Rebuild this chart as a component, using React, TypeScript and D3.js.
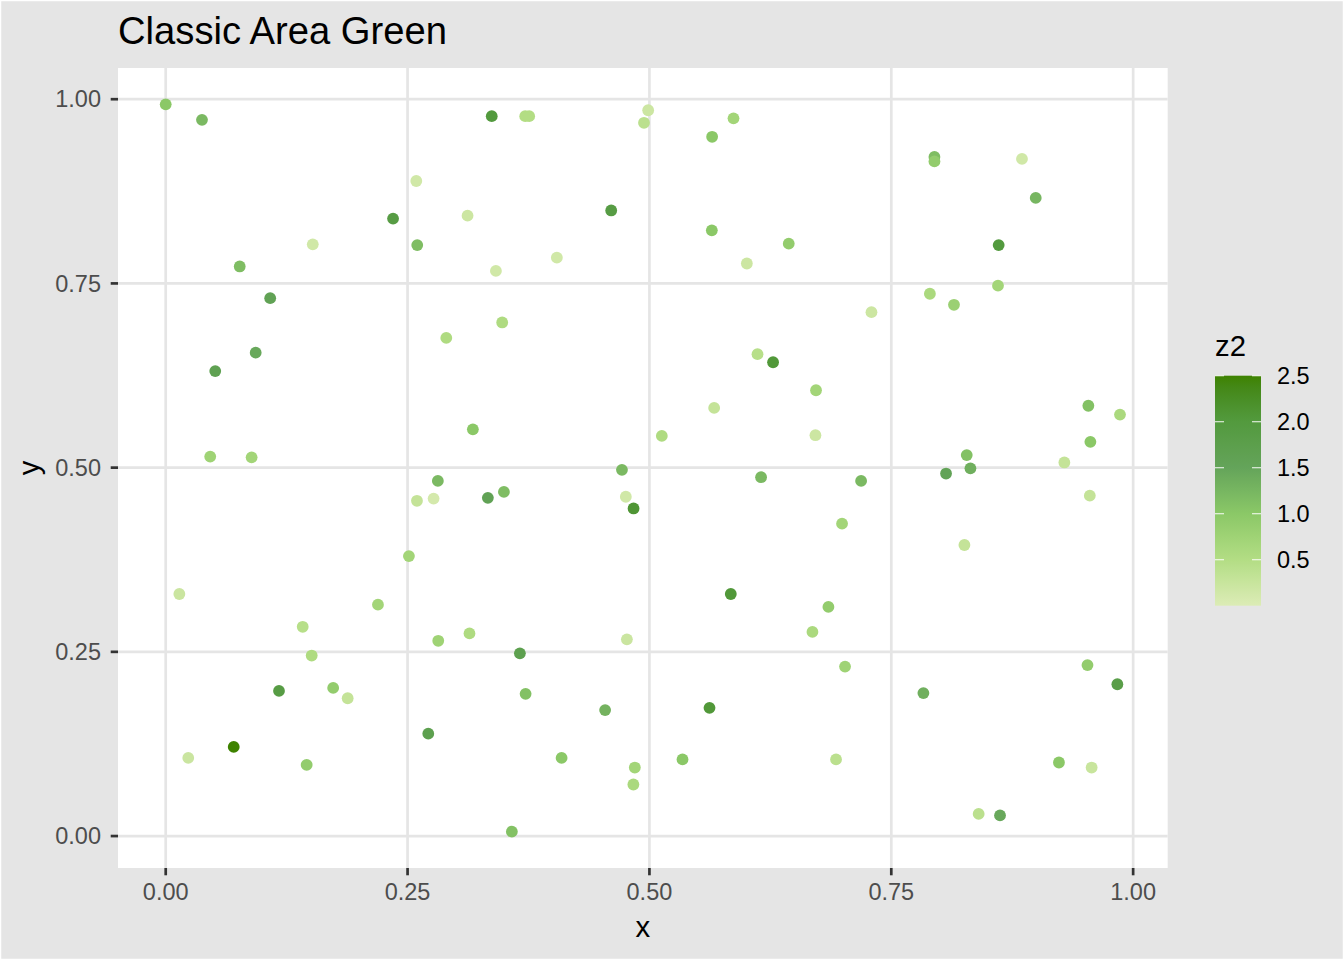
import React from 'react';
import * as d3 from 'd3';

// point data (x, y, z2)
const xs = [
  0.0, 0.0375, 0.259, 0.235, 0.312, 0.152, 0.26, 0.0765, 0.108, 0.29, 0.093, 0.0512, 0.3175, 0.046, 0.0888,
  0.337, 0.3716, 0.3757, 0.4987, 0.4944, 0.5869, 0.5648, 0.4605, 0.5645, 0.644, 0.6007, 0.4043, 0.3413, 0.3478,
  0.6117, 0.6278, 0.6722, 0.5669, 0.6716, 0.5128, 0.7946, 0.7946, 0.8851, 0.8993, 0.861, 0.8603, 0.7899, 0.8148,
  0.7295, 0.9537, 0.9864, 0.9558, 0.9289, 0.828, 0.8318, 0.8066, 0.7188, 0.9552, 0.6991, 0.8256, 0.685, 0.7022,
  0.9528, 0.9837, 0.7832, 0.6929, 0.9233, 0.9571, 0.8403, 0.8624, 0.4716, 0.6154, 0.333, 0.3496, 0.4756, 0.4836,
  0.314, 0.5841, 0.6685, 0.4767, 0.3661, 0.372, 0.4542, 0.5621, 0.4092, 0.5342, 0.4849, 0.4834, 0.3578, 0.2813,
  0.2597, 0.2769, 0.2514, 0.0141, 0.2194, 0.1416, 0.2817, 0.1509, 0.1731, 0.1881, 0.1171, 0.2714, 0.0703, 0.0233,
  0.1457,
];
const ys = [
  0.993, 0.972, 0.889, 0.838, 0.842, 0.803, 0.802, 0.773, 0.73, 0.676, 0.656, 0.631, 0.552, 0.515, 0.514,
  0.977, 0.977, 0.977, 0.985, 0.968, 0.974, 0.949, 0.849, 0.822, 0.804, 0.777, 0.785, 0.767, 0.697,
  0.654, 0.643, 0.605, 0.581, 0.544, 0.543, 0.9216, 0.9156, 0.919, 0.866, 0.802, 0.747, 0.736, 0.721,
  0.711, 0.584, 0.572, 0.535, 0.507, 0.517, 0.499, 0.492, 0.482, 0.462, 0.424, 0.395, 0.311, 0.23,
  0.232, 0.206, 0.194, 0.104, 0.0998, 0.093, 0.03, 0.028, 0.497, 0.487, 0.459, 0.467, 0.4605, 0.4446,
  0.275, 0.3285, 0.277, 0.267, 0.248, 0.193, 0.171, 0.174, 0.106, 0.104, 0.093, 0.07, 0.006, 0.482,
  0.455, 0.458, 0.38, 0.3285, 0.314, 0.284, 0.265, 0.245, 0.201, 0.187, 0.197, 0.139, 0.121, 0.106,
  0.0966,
];
const zs = [
  1.0, 1.2, 0.15, 1.9, 0.2, 0.15, 1.15, 1.15, 1.6, 0.55, 1.45, 1.65, 1.0, 0.75, 0.7,
  2.0, 0.5, 0.5, 0.2, 0.4, 0.7, 1.0, 1.9, 1.0, 0.9, 0.2, 0.15, 0.15, 0.55,
  0.45, 2.05, 0.7, 0.3, 0.2, 0.55, 1.15, 0.9, 0.15, 1.25, 2.0, 0.7, 0.6, 0.8,
  0.2, 1.1, 0.6, 1.0, 0.3, 1.1, 1.35, 1.55, 1.2, 0.3, 0.7, 0.3, 0.9, 0.75,
  0.9, 1.8, 1.35, 0.4, 1.0, 0.25, 0.4, 1.45, 1.2, 1.2, 1.6, 1.15, 0.15, 2.1,
  0.55, 2.05, 0.6, 0.22, 1.7, 1.1, 1.3, 2.05, 1.0, 1.0, 0.7, 0.6, 1.1, 1.2,
  0.3, 0.1, 0.7, 0.22, 0.7, 0.45, 0.75, 0.55, 0.9, 0.3, 1.9, 1.7, 2.5, 0.22,
  0.9,
];

const xTicks = [0, 0.25, 0.5, 0.75, 1.0];
const yTicks = [0, 0.25, 0.5, 0.75, 1.0];
const zTicks = [0.5, 1.0, 1.5, 2.0, 2.5];
const zLimits = [0, 2.5];
const zStops = [0, 0.5, 1.0, 1.5, 2.0, 2.5];
const zColors = ['#dcecb6', '#b3dd84', '#8bc867', '#64a45a', '#539a3e', '#3e8200'];

const W = 1344;
const H = 960;
const FONT = '"Liberation Sans", Arial, Helvetica, sans-serif';
const BG = '#E5E5E5';

export default function App() {
  const panel = { left: 118, top: 68, right: 1167.7, bottom: 868 };

  // ggplot-like 5% expansion
  const expand = (ext: [number, number]) => {
    const pad = (ext[1] - ext[0]) * 0.05;
    return [ext[0] - pad, ext[1] + pad];
  };
  const x = d3.scaleLinear()
    .domain(expand(d3.extent(xs) as [number, number]))
    .range([panel.left, panel.right]);
  const y = d3.scaleLinear()
    .domain(expand(d3.extent(ys) as [number, number]))
    .range([panel.bottom, panel.top]);
  const color = d3.scaleLinear<string>()
    .domain(zStops)
    .range(zColors)
    .interpolate(d3.interpolateLab)
    .clamp(true);

  const bar = { left: 1215, right: 1261, top: 375.7, bottom: 605.7 };
  const zy = d3.scaleLinear().domain(zLimits).range([bar.bottom, bar.top]);

  const points = xs.map((xv, i) => ({ x: xv, y: ys[i], z: zs[i] }));

  return (
    <svg width={W} height={H} style={{ position: 'absolute', left: 0, top: 0 }} fontFamily={FONT}>
      <defs>
        <linearGradient id="zgrad" x1="0" y1="1" x2="0" y2="0">
          {d3.range(0, 1.0001, 0.05).map((t) => (
            <stop key={t} offset={t} stopColor={color(zLimits[0] + t * (zLimits[1] - zLimits[0]))} />
          ))}
        </linearGradient>
      </defs>
      <rect x={0.5} y={0.5} width={W - 1} height={H - 1} fill={BG} stroke="#ffffff" strokeWidth={1.5} />

      {/* panel */}
      <rect x={panel.left} y={panel.top} width={panel.right - panel.left} height={panel.bottom - panel.top} fill="#ffffff" />
      {xTicks.map((t) => (
        <line key={'gx' + t} x1={x(t)} x2={x(t)} y1={panel.top} y2={panel.bottom} stroke={BG} strokeWidth={2.7} />
      ))}
      {yTicks.map((t) => (
        <line key={'gy' + t} x1={panel.left} x2={panel.right} y1={y(t)} y2={y(t)} stroke={BG} strokeWidth={2.7} />
      ))}

      {points.map((p, i) => (
        <circle key={i} cx={x(p.x)} cy={y(p.y)} r={5.9} fill={color(p.z)} />
      ))}

      {/* axes */}
      {xTicks.map((t) => (
        <g key={'tx' + t}>
          <line x1={x(t)} x2={x(t)} y1={panel.bottom} y2={panel.bottom + 7.3} stroke="#333333" strokeWidth={2.7} />
          <text x={x(t)} y={900} textAnchor="middle" fontSize={23.5} fill="#4D4D4D">
            {t.toFixed(2)}
          </text>
        </g>
      ))}
      {yTicks.map((t) => (
        <g key={'ty' + t}>
          <line x1={panel.left - 7.3} x2={panel.left} y1={y(t)} y2={y(t)} stroke="#333333" strokeWidth={2.7} />
          <text x={101} y={y(t)} dy="0.35em" textAnchor="end" fontSize={23.5} fill="#4D4D4D">
            {t.toFixed(2)}
          </text>
        </g>
      ))}
      <text x={(panel.left + panel.right) / 2} y={937} textAnchor="middle" fontSize={29.3} fill="#000">x</text>
      <text transform={`translate(39,${(panel.top + panel.bottom) / 2}) rotate(-90)`} textAnchor="middle" fontSize={29.3} fill="#000">y</text>

      {/* title */}
      <text x={panel.left} y={44} fontSize={38.2} fill="#000">Classic Area Green</text>

      {/* legend */}
      <text x={bar.left} y={356} fontSize={29.3} fill="#000">z2</text>
      <rect x={bar.left} y={bar.top} width={bar.right - bar.left} height={bar.bottom - bar.top} fill="url(#zgrad)" />
      {zTicks.map((t) => (
        <g key={'z' + t}>
          <line x1={bar.left} x2={bar.left + 9} y1={zy(t)} y2={zy(t)} stroke="#ffffff" strokeOpacity={0.8} strokeWidth={1.2} />
          <line x1={bar.right - 9} x2={bar.right} y1={zy(t)} y2={zy(t)} stroke="#ffffff" strokeOpacity={0.8} strokeWidth={1.2} />
          <text x={1277} y={zy(t)} dy="0.35em" fontSize={23.5} fill="#000">{t.toFixed(1)}</text>
        </g>
      ))}
    </svg>
  );
}
